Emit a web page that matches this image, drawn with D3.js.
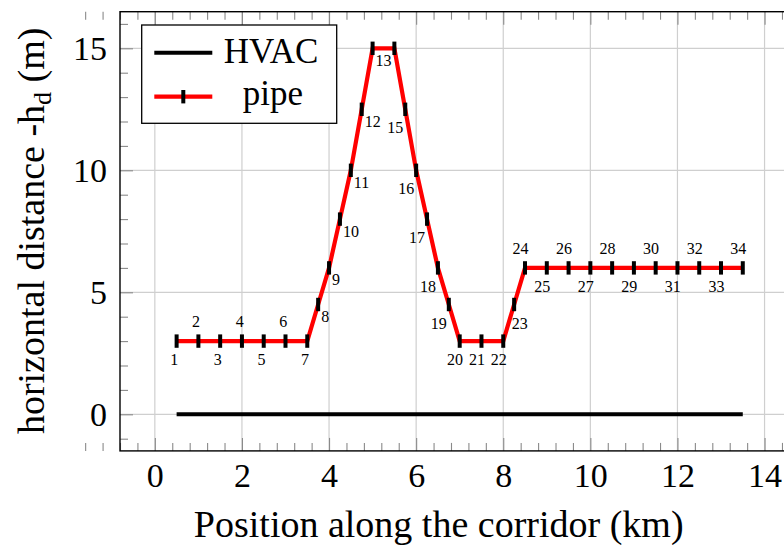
<!DOCTYPE html>
<html>
<head>
<meta charset="utf-8">
<script src="https://cdn.jsdelivr.net/npm/d3@7"></script>
<style>
  html, body { margin: 0; padding: 0; background: #fff; }
  svg text { font-family: "Liberation Serif", serif; fill: #000; }
</style>
</head>
<body>
<script>
"use strict";

// pipe route, one entry per numbered point
const pipeX = [0.5, 1, 1.5, 2, 2.5, 3, 3.5, 3.75, 4, 4.25, 4.5, 4.75, 5, 5.5,
               5.75, 6, 6.25, 6.5, 6.75, 7, 7.5, 8, 8.25, 8.5, 9, 9.5, 10,
               10.5, 11, 11.5, 12, 12.5, 13, 13.5];
const pipeY = [3, 3, 3, 3, 3, 3, 3, 4.5, 6, 8, 10, 12.5, 15, 15,
               12.5, 10, 8, 6, 4.5, 3, 3, 3, 4.5, 6, 6, 6, 6,
               6, 6, 6, 6, 6, 6, 6];
const pointLabels = ["1","2","3","4","5","6","7","8","9","10","11","12","13","",
                     "15","16","17","18","19","20","21","22","23","24","25","26","27",
                     "28","29","30","31","32","33","34"];

const hvacX = [0.5, 13.5];
const hvacY = [0, 0];

const xTicks = [0, 2, 4, 6, 8, 10, 12, 14];
const yTicks = [0, 5, 10, 15];

const seriesNames = ["HVAC", "pipe"];
const xTitle = "Position along the corridor (km)";

(function() {

const width = 784;
const height = 545;

let svg = d3.select("body").append("svg")
    .attr("width", width)
    .attr("height", height);

let x = d3.scaleLinear().domain([-0.8, 14.8]).range([120, 799.4]);
let y = d3.scaleLinear().domain([-1.5, 16.5]).range([450.9, 11.7]);

const pLeft = x.range()[0], pRight = x.range()[1];
const pTop = y.range()[1], pBottom = y.range()[0];

// minor tick positions (every 0.4 km, every 1 m)
let xMinor = d3.range(-4, 38).map(i => i * 0.4).filter(v => Math.abs(v / 2 - Math.round(v / 2)) > 1e-6);
let yMinor = d3.range(-1, 17).filter(v => v % 5 !== 0);

// grid
svg.append("g").selectAll("line")
    .data(xTicks).enter().append("line")
    .attr("x1", d => x(d)).attr("x2", d => x(d))
    .attr("y1", pTop).attr("y2", pBottom)
    .style("stroke", "#cfcfcf").style("stroke-width", 1.2);
svg.append("g").selectAll("line")
    .data(yTicks).enter().append("line")
    .attr("x1", pLeft).attr("x2", pRight)
    .attr("y1", d => y(d)).attr("y2", d => y(d))
    .style("stroke", "#cfcfcf").style("stroke-width", 1.2);

function styleAxis(g) {
    g.select(".domain").remove();
    g.selectAll(".tick line").style("stroke", "#8a8a8a").style("stroke-width", 1.1);
}

// bottom axis with labels
svg.append("g")
    .attr("transform", `translate(0,${pBottom})`)
    .call(d3.axisBottom(x).tickValues(xTicks).tickSizeInner(-13).tickSizeOuter(0).tickPadding(12))
    .call(styleAxis)
    .selectAll("text").style("font-size", "34px").style("font-family", "Liberation Serif, serif");
svg.append("g")
    .attr("transform", `translate(0,${pBottom})`)
    .call(d3.axisBottom(x).tickValues(xMinor).tickSizeInner(-8).tickSizeOuter(0).tickFormat(""))
    .call(styleAxis);
svg.append("g")
    .attr("transform", `translate(0,${pTop})`)
    .call(d3.axisTop(x).tickValues(xTicks).tickSizeInner(-13).tickSizeOuter(0).tickFormat(""))
    .call(styleAxis);
svg.append("g")
    .attr("transform", `translate(0,${pTop})`)
    .call(d3.axisTop(x).tickValues(xMinor).tickSizeInner(-8).tickSizeOuter(0).tickFormat(""))
    .call(styleAxis);

// left axis with labels
svg.append("g")
    .attr("transform", `translate(${pLeft},0)`)
    .call(d3.axisLeft(y).tickValues(yTicks).tickSizeInner(-13).tickSizeOuter(0).tickPadding(13))
    .call(styleAxis)
    .selectAll("text").style("font-size", "34px").style("font-family", "Liberation Serif, serif");
svg.append("g")
    .attr("transform", `translate(${pLeft},0)`)
    .call(d3.axisLeft(y).tickValues(yMinor).tickSizeInner(-8).tickSizeOuter(0).tickFormat(""))
    .call(styleAxis);
svg.append("g")
    .attr("transform", `translate(${pRight},0)`)
    .call(d3.axisRight(y).tickValues(yTicks).tickSizeInner(-13).tickSizeOuter(0).tickFormat(""))
    .call(styleAxis);
svg.append("g")
    .attr("transform", `translate(${pRight},0)`)
    .call(d3.axisRight(y).tickValues(yMinor).tickSizeInner(-8).tickSizeOuter(0).tickFormat(""))
    .call(styleAxis);

// frame
svg.append("rect")
    .attr("x", pLeft).attr("y", pTop)
    .attr("width", pRight - pLeft).attr("height", pBottom - pTop)
    .style("fill", "none").style("stroke", "#000").style("stroke-width", 1.4);

// HVAC line
let hvac = hvacX.map((v, i) => [v, hvacY[i]]);
let line = d3.line().x(d => x(d[0])).y(d => y(d[1]));

svg.append("path")
    .datum(hvac)
    .attr("d", line)
    .style("fill", "none").style("stroke", "#000").style("stroke-width", 4);

// pipe line
let pipe = pipeX.map((v, i) => ({x: v, y: pipeY[i], label: pointLabels[i], n: i + 1}));

svg.append("path")
    .datum(pipe.map(d => [d.x, d.y]))
    .attr("d", line)
    .style("fill", "none").style("stroke", "#ff0000").style("stroke-width", 4.2)
    .style("stroke-linejoin", "miter");

svg.append("g").selectAll("line")
    .data(pipe).enter().append("line")
    .attr("x1", d => x(d.x)).attr("x2", d => x(d.x))
    .attr("y1", d => y(d.y) - 6.7).attr("y2", d => y(d.y) + 6.7)
    .style("stroke", "#000").style("stroke-width", 4);

// point numbers
const aboveSet = new Set([2, 4, 6, 24, 26, 28, 30, 32, 34]);
const rightSet = new Set([8, 9, 10, 11, 12, 13]);
const leftSet = new Set([15, 16, 17, 18, 19]);

function place(d) {
    let px = x(d.x), py = y(d.y), len = d.label.length;
    if (rightSet.has(d.n)) return {x: px + 3, y: py + 17.5, a: "start"};
    if (leftSet.has(d.n)) return {x: px - 2, y: py + 24, a: "end"};
    if (d.n === 23) return {x: px + 5.6, y: py + 24, a: "middle"};
    if (aboveSet.has(d.n)) return {x: px - 2.3 * len, y: py - 14, a: "middle"};
    return {x: px - 2.3 * len, y: py + 24, a: "middle"};
}

svg.append("g").selectAll("text")
    .data(pipe.filter(d => d.label !== "")).enter().append("text")
    .each(function(d) {
        let p = place(d);
        d3.select(this)
            .attr("x", p.x).attr("y", p.y)
            .attr("text-anchor", p.a)
            .style("font-size", "16px")
            .text(d.label);
    });

// legend
let legend = svg.append("g");
legend.append("rect")
    .attr("x", 141.7).attr("y", 25)
    .attr("width", 195).attr("height", 98.3)
    .style("fill", "#fff").style("stroke", "#000").style("stroke-width", 1.3);
legend.append("line")
    .attr("x1", 154.3).attr("x2", 212.3).attr("y1", 52.7).attr("y2", 52.7)
    .style("stroke", "#000").style("stroke-width", 4);
legend.append("line")
    .attr("x1", 154.3).attr("x2", 212.3).attr("y1", 96.7).attr("y2", 96.7)
    .style("stroke", "#ff0000").style("stroke-width", 4.2);
legend.append("line")
    .attr("x1", 183.3).attr("x2", 183.3).attr("y1", 90).attr("y2", 103.4)
    .style("stroke", "#000").style("stroke-width", 4);
legend.append("text")
    .attr("x", 271).attr("y", 63.3)
    .attr("text-anchor", "middle")
    .style("font-size", "35px")
    .text(seriesNames[0]);
legend.append("text")
    .attr("x", 273).attr("y", 105)
    .attr("text-anchor", "middle")
    .style("font-size", "35px")
    .text(seriesNames[1]);

// axis titles
svg.append("text")
    .attr("x", 438.7).attr("y", 536.7)
    .attr("text-anchor", "middle")
    .style("font-size", "38px")
    .text(xTitle);

let yt = svg.append("text")
    .attr("transform", "translate(43.5,230.8) rotate(-90)")
    .attr("text-anchor", "middle")
    .style("font-size", "38px");
yt.append("tspan").text("horizontal distance -h");
yt.append("tspan").attr("dy", 7).style("font-size", "26px").text("d");
yt.append("tspan").attr("dy", -7).text(" (m)");

})();
</script>
</body>
</html>
